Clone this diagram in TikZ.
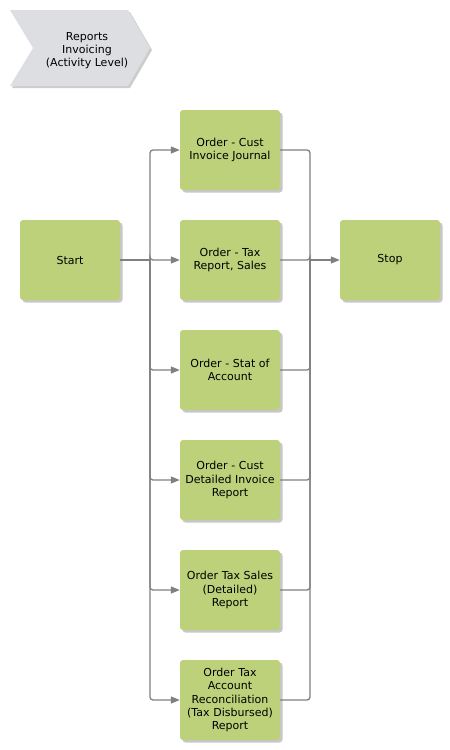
\documentclass[tikz,border=0pt]{standalone}
\usepackage{fontspec}
\setmainfont{DejaVu Sans}
\usetikzlibrary{arrows.meta,calc,positioning,shadows}
\definecolor{taskgreen}{RGB}{189,209,122}
\definecolor{wiregray}{RGB}{128,128,128}
\definecolor{bannergray}{RGB}{221,222,225}
\definecolor{shadegray}{RGB}{170,170,170}
\tikzset{
  wire/.style={draw=wiregray,line width=1.3pt,rounded corners=3pt},
  flow/.style={wire,-{Triangle[length=9pt,width=7pt]}},
  task/.style={fill=taskgreen,rounded corners=3pt,minimum width=100pt,minimum height=80pt,
               text width=96pt,align=center,inner sep=2pt,
               font=\fontsize{11}{13.3}\selectfont,
               drop shadow={shadow xshift=2.5pt,shadow yshift=-2.5pt,fill=black,opacity=0.22}},
}

\begin{document}
\begin{tikzpicture}[x=1pt,y=-1pt]
  \path[use as bounding box] (0,0) rectangle (450,750);
  % banner
  \fill[shadegray,opacity=0.6] (12,12)--(130,12)--(152,50)--(130,88)--(12,88)--(35,50)--cycle;
  \fill[bannergray] (10,10)--(128,10)--(150,48)--(128,86)--(10,86)--(33,48)--cycle;
  \node[align=center,font=\fontsize{11}{13}\selectfont] (banner) at (87,51)
    {Reports\\Invoicing\\(Activity Level)};

  \node[task] (start) at (70,260) {Start};
  \node[task] (custjournal) at (230,150) {Order - Cust\\Invoice Journal};
  \node[task] (taxreport) at (230,260) {Order - Tax\\Report, Sales};
  \node[task] (statacct) at (230,370) {Order - Stat of\\Account};
  \node[task] (custdetail) at (230,480) {Order - Cust\\Detailed Invoice\\Report};
  \node[task] (taxsales) at (230,590) {Order Tax Sales\\(Detailed)\\Report};
  \node[task] (taxrecon) at (230,700) {Order Tax\\Account\\Reconciliation\\(Tax Disbursed)\\Report};
  \node[task] (stop) at (390,260) {Stop};

  \coordinate (split) at (150,260);
  \coordinate (merge) at (310,260);
  \draw[wire] (start.east) -- (split);
  \foreach \n in {custjournal,taxreport,statacct,custdetail,taxsales,taxrecon}{
    \draw[flow] (split) |- (\n.west);
    \draw[wire] (\n.east) -| (merge);
  }
  \draw[flow] (merge) -- (stop.west);
\end{tikzpicture}
\end{document}
